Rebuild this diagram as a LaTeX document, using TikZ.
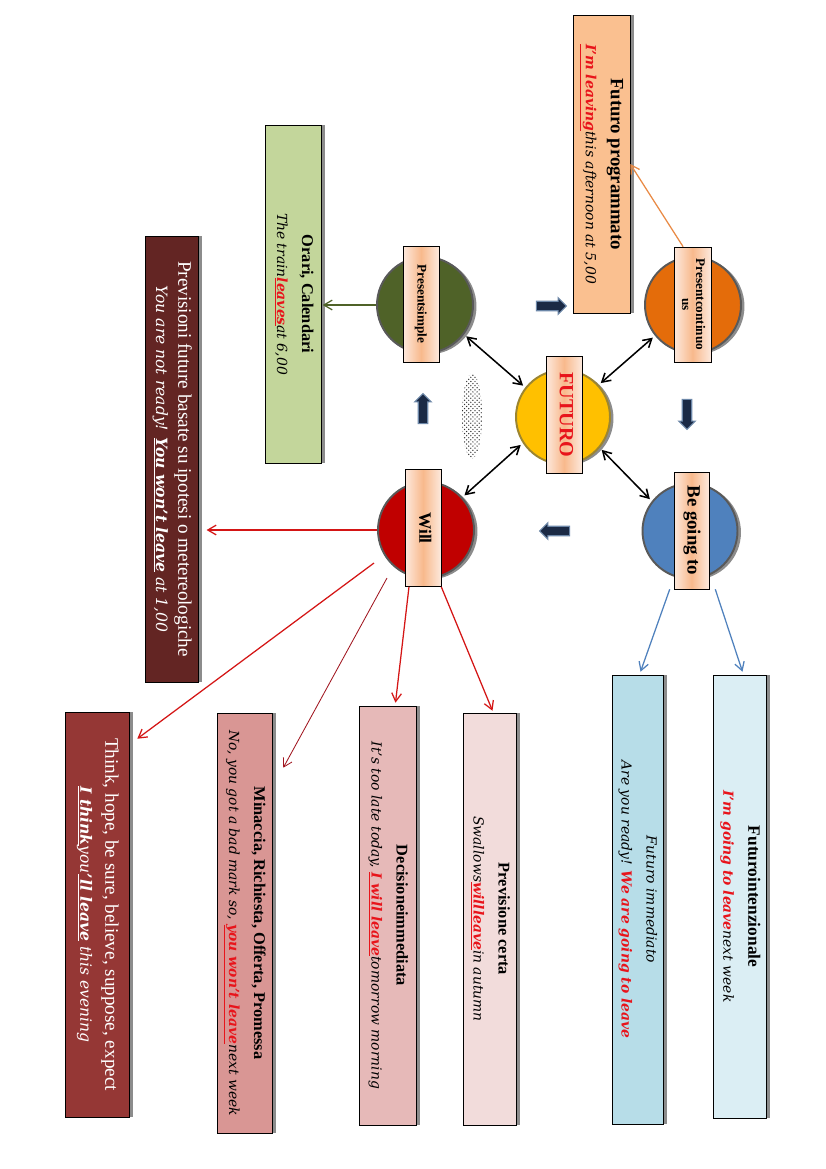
\documentclass[tikz,border=0pt]{standalone}
\usepackage{graphicx}
\usepackage{fontspec}
\setmainfont{Liberation Serif}
\newfontfamily\exfont{DejaVu Serif}
\usetikzlibrary{arrows.meta,calc,shapes.geometric,shapes.arrows,shadows,patterns}
\definecolor{peach}{HTML}{FAC090}
\definecolor{progarrow}{HTML}{E98A45}
\definecolor{pcontfill}{HTML}{E46C0A}
\definecolor{psimplefill}{HTML}{4F6228}
\definecolor{futurofill}{HTML}{FFC000}
\definecolor{futuroedge}{HTML}{9C8530}
\definecolor{willfill}{HTML}{C00000}
\definecolor{goingfill}{HTML}{4F81BD}
\definecolor{tagedge}{HTML}{FDE9DD}
\definecolor{tagmid}{HTML}{F8B98C}
\definecolor{orarifill}{HTML}{C3D69B}
\definecolor{previfill}{HTML}{632523}
\definecolor{thinkfill}{HTML}{953735}
\definecolor{minacciafill}{HTML}{D99694}
\definecolor{decisionefill}{HTML}{E6B9B8}
\definecolor{certafill}{HTML}{F2DCDB}
\definecolor{immediatofill}{HTML}{B7DDE8}
\definecolor{intenzfill}{HTML}{DBEEF4}
\definecolor{hilite}{HTML}{E8141B}
\definecolor{arrowred}{HTML}{D41515}
\definecolor{darkred}{HTML}{A0141E}
\definecolor{navyfill}{HTML}{1B2A45}
\definecolor{slateedge}{HTML}{6C87A8}
\newcommand{\vlabel}[1]{\rotatebox{-90}{\begin{tabular}{@{}c@{}}#1\end{tabular}}}
\newcommand{\headfont}{\fontsize{11.8}{13}\selectfont}
\newcommand{\bighead}{\fontsize{13.8}{15}\selectfont}
\newcommand{\exline}{\exfont\itshape\fontsize{10}{11}\selectfont}
\newcommand{\bigex}{\exfont\itshape\fontsize{11.2}{12}\selectfont}
\newcommand{\keyword}[1]{\textcolor{hilite}{\bfseries\underline{#1}}}
\newcommand{\strongul}[1]{\textbf{\underline{#1}}}
\newcommand{\rowgap}{6pt}
\tikzset{
  infobox/.style={
    rectangle, draw=black, fill=#1, thin, inner sep=2pt,
    drop shadow={shadow xshift=2.8pt, shadow yshift=0pt, fill=black!45, opacity=1}
  },
  infobox/.default=peach,
  boxsize/.style 2 args={minimum width=#1*0.72pt, minimum height=#2*0.72pt},
  bubble/.style={
    circle, fill=#1, draw=black!65, line width=1.4pt,
    minimum size=96*0.72pt, inner sep=0pt,
    drop shadow={shadow xshift=2.5pt, shadow yshift=-1pt, fill=black!45, opacity=1}
  },
  tenselabel/.style={
    rectangle, draw=black, thin, inner sep=1pt,
    left color=tagedge, right color=tagedge, middle color=tagmid,
    font=\bfseries
  },
  linkarrow/.style={-{Straight Barb[length=6pt,width=7pt]}, line width=0.9pt, draw=#1},
  linkarrow/.default=arrowred,
  twoway/.style={
    {Straight Barb[length=6pt,width=7pt]}-{Straight Barb[length=6pt,width=7pt]},
    line width=1.1pt, black, shorten <=2pt, shorten >=2pt
  },
  cyclearrow/.style={
    single arrow, draw=slateedge, fill=navyfill, line width=0.8pt,
    minimum height=30*0.72pt, single arrow head extend=2.5pt,
    inner sep=3pt, shape border rotate=#1
  },
}

\begin{document}
\begin{tikzpicture}[x=0.72pt, y=-0.72pt]
  \useasboundingbox (0,0) rectangle (826,1169);
  \fill[white] (0,0) rectangle (826,1169);

  % Tense bubbles
  \node[bubble=futurofill, draw=futuroedge, minimum size=94*0.72pt] (futuro) at (563,417) {};
  \node[bubble=pcontfill] (pcont) at (693,305) {};
  \node[bubble=psimplefill] (psimple) at (425,305) {};
  \node[bubble=willfill] (will) at (426,530) {};
  \node[bubble=goingfill, minimum size=95*0.72pt] (going) at (690,531) {};
  \node[ellipse, pattern=crosshatch dots, pattern color=black!80, inner sep=0pt,
        minimum width=20*0.72pt, minimum height=85*0.72pt] (stipple) at (472,416) {};

  % Labels on the bubbles
  \node[tenselabel, boxsize={36}{117}] (futuroLbl) at (564,415)
    {\vlabel{\fontsize{14.5}{15}\selectfont\color{hilite}FUTURO}};
  \node[tenselabel, boxsize={37}{115}] (pcontLbl) at (692.5,304.5)
    {\vlabel{\fontsize{9.5}{10}\selectfont Presentcontinuo\\[-2pt]\fontsize{9.5}{10}\selectfont us}};
  \node[tenselabel, boxsize={36}{116}] (psimpleLbl) at (421,304)
    {\vlabel{\fontsize{9.5}{10}\selectfont Presentsimple}};
  \node[tenselabel, boxsize={36}{117}] (willLbl) at (423,528)
    {\vlabel{\fontsize{12.5}{13}\selectfont Will}};
  \node[tenselabel, boxsize={35}{117}] (goingLbl) at (691.5,530.5)
    {\vlabel{\fontsize{13.5}{14}\selectfont Be going to}};

  % Cycle arrows
  \node[cyclearrow=0] (toPcont) at (549,306) {};
  \node[cyclearrow=270] (toGoing) at (687,412) {};
  \node[cyclearrow=180] (toWill) at (557,531) {};
  \node[cyclearrow=90] (toSimple) at (423,411) {};

  % Boxes
  \node[infobox=peach, boxsize={57}{298}] (prog) at (601.5,164)
    {\vlabel{\fontsize{13.5}{14}\selectfont\bfseries Futuro programmato\\[\rowgap]
      \exline\keyword{I’m leaving}this afternoon at 5,00}};
  \node[infobox=orarifill, boxsize={56}{338}] (orari) at (293,294)
    {\vlabel{\headfont\bfseries Orari, Calendari\\[\rowgap]
      \exline The train\keyword{leaves}at 6,00}};
  \node[infobox=previfill, boxsize={53}{446}, text=white] (previsioni) at (171.5,459)
    {\vlabel{\bighead Previsioni future basate su ipotesi o metereologiche\\[4pt]
      \bigex You are not ready! \strongul{You won’t leave} at 1,00}};
  \node[infobox=thinkfill, boxsize={64}{405}, text=white] (think) at (97,914.5)
    {\vlabel{\bighead Think, hope, be sure, believe, suppose, expect\\[\rowgap]
      \bigex\strongul{I think}you\strongul{’ll leave} this evening}};
  \node[infobox=minacciafill, boxsize={55}{420}] (minaccia) at (244.5,923)
    {\vlabel{\headfont\bfseries Minaccia, Richiesta, Offerta, Promessa\\[\rowgap]
      \exline No, you got a bad mark so, \keyword{you won’t leave}next week}};
  \node[infobox=decisionefill, boxsize={57}{419}] (decisione) at (387.5,915.5)
    {\vlabel{\headfont\bfseries Decisioneimmediata\\[\rowgap]
      \exline It’s too late today, \keyword{I will leave}tomorrow morning}};
  \node[infobox=certafill, boxsize={53}{412}] (certa) at (489.5,919)
    {\vlabel{\headfont\bfseries Previsione certa\\[\rowgap]
      \exline Swallows\keyword{willleave}in autumn}};
  \node[infobox=immediatofill, boxsize={51}{449}] (immediato) at (637.5,899.5)
    {\vlabel{\exline Futuro immediato\\[\rowgap]
      \exline Are you ready! \textcolor{hilite}{\bfseries We are going to leave}}};
  \node[infobox=intenzfill, boxsize={53}{443}] (intenz) at (739.5,896.5)
    {\vlabel{\fontsize{12.5}{13}\selectfont\bfseries Futurointenzionale\\[\rowgap]
      \exline\textcolor{hilite}{\bfseries I’m going to leave}next week}};

  % Arrows between the bubbles
  \draw[twoway] (psimple.-37) -- (futuro.142);
  \draw[twoway] (pcont.219) -- (futuro.42);
  \draw[twoway] (will.42) -- (futuro.213);
  \draw[twoway] (going.142) -- (futuro.320);

  % Arrows to the boxes
  \coordinate (thinkTail) at (374,563);
  \coordinate (minacciaTail) at (387,578);
  \draw[linkarrow=progarrow] ($(pcontLbl.north)!0.5!(pcontLbl.north west)$) -- (prog.east);
  \draw[linkarrow=psimplefill, shorten >=1pt] (psimple.west) -- (psimple.west -| orari.east);
  \draw[linkarrow, shorten >=6pt] (will.west) -- (will.west -| previsioni.east);
  \draw[linkarrow] (thinkTail) -- ($(think.north east)+(8,27)$);
  \draw[linkarrow=darkred, line width=0.6pt] (minacciaTail) -- ($(minaccia.north east)+(11,55)$);
  \draw[linkarrow] ($(willLbl.south)+(-14,0)$) -- ($(decisione.north)+(8,-3)$);
  \draw[linkarrow] (willLbl.south east) -- ($(certa.north)+(3,-2)$);
  \draw[linkarrow=goingfill] ($(goingLbl.south west)+(-4,0)$) -- ($(immediato.north)+(3,-3)$);
  \draw[linkarrow=goingfill] ($(goingLbl.south east)+(6,0)$) -- ($(intenz.north)+(3,-3)$);
\end{tikzpicture}
\end{document}
